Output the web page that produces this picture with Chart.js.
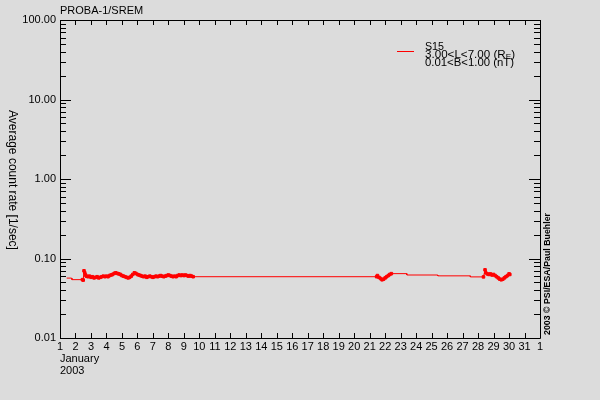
<!DOCTYPE html>
<html>
<head>
<meta charset="utf-8">
<script src="https://cdn.jsdelivr.net/npm/chart.js@4"></script>
<style>
  html, body { margin: 0; padding: 0; background: #dcdcdc; }
  canvas { display: block; }
</style>
</head>
<body>
<canvas id="sremChart" width="600" height="400"></canvas>
<script>
// day of January 2003 (decimal) and S15 average count rate [1/sec]
const days = [
  1.43, 1.75, 1.77, 2.45, 2.5,
  2.55, 2.6, 2.65, 2.7, 2.8, 2.9, 3.0, 3.1, 3.2, 3.3, 3.4, 3.5, 3.6, 3.7, 3.8, 3.9,
  4.0, 4.1, 4.2, 4.3, 4.4, 4.5, 4.6, 4.7, 4.8, 4.9, 5.0, 5.1, 5.2, 5.3, 5.4, 5.5,
  5.6, 5.7, 5.8, 5.9, 6.0, 6.1, 6.2, 6.3, 6.4, 6.5, 6.6, 6.7, 6.8, 6.9, 7.0, 7.1,
  7.2, 7.3, 7.4, 7.5, 7.6, 7.7, 7.8, 7.9, 8.0, 8.1, 8.2, 8.3, 8.4, 8.5, 8.6, 8.7,
  8.8, 8.9, 9.0, 9.1, 9.2, 9.3, 9.4, 9.5, 9.6,
  21.45, 21.5, 21.6, 21.7, 21.8, 21.9, 22.0, 22.1, 22.2, 22.3, 22.4,
  23.4, 23.4, 25.4, 25.4, 27.5, 27.5, 28.35,
  28.45, 28.5, 28.6, 28.7, 28.8, 28.9, 29.0, 29.1, 29.2, 29.3, 29.4, 29.5, 29.6,
  29.7, 29.8, 29.9, 30.0, 30.05
]
const rates = [
  0.0567, 0.0567, 0.0542, 0.0542, 0.0535,
  0.070, 0.066, 0.062, 0.060, 0.059, 0.060, 0.058, 0.059, 0.057, 0.058, 0.059, 0.057, 0.058, 0.059, 0.060, 0.059,
  0.060, 0.059, 0.061, 0.062, 0.063, 0.065, 0.066, 0.065, 0.064, 0.063, 0.061, 0.060, 0.059, 0.058, 0.057, 0.058,
  0.060, 0.063, 0.066, 0.065, 0.063, 0.062, 0.061, 0.060, 0.059, 0.060, 0.058, 0.059, 0.060, 0.059, 0.058, 0.059,
  0.060, 0.059, 0.060, 0.061, 0.060, 0.059, 0.060, 0.061, 0.062, 0.061, 0.060, 0.059, 0.060, 0.059, 0.061, 0.062,
  0.061, 0.062, 0.061, 0.062, 0.061, 0.060, 0.061, 0.060, 0.059,
  0.059, 0.061, 0.058, 0.056, 0.054, 0.055, 0.057, 0.059, 0.061, 0.063, 0.0645,
  0.0645, 0.062, 0.062, 0.0605, 0.0605, 0.0587, 0.0587,
  0.072, 0.066, 0.064, 0.063, 0.064, 0.062, 0.063, 0.061, 0.059, 0.057, 0.055, 0.054, 0.055,
  0.057, 0.059, 0.061, 0.064, 0.063
]

const yTicks = [0.01, 0.1, 1, 10, 100]
const firstDay = 1
const lastDay = 32   // 1 February
const monthLabel = 'January'
const yearLabel = '2003'
const chartTitle = 'PROBA-1/SREM'
const yTitle = 'Average count rate [1/sec]'
const credit = '2003 \u00a9 PSI/ESA/Paul Buehler'
const seriesName = 'S15'

const bgColor = '#dcdcdc'
const lineColor = '#ff0000'
const fontName = '"Liberation Sans", Arial, sans-serif'

// a point is marked only where the measurements are dense
function pointSize(ctx) {
  var i = ctx.dataIndex
  var gaps = []
  if (i > 0) gaps.push(days[i] - days[i - 1])
  if (i < days.length - 1) gaps.push(days[i + 1] - days[i])
  var close = gaps.some(function (g) { return g > 0.03 && g < 0.15 })
  return close ? 1.8 : 0
}

// draw a run of [text, dy, size] pieces stretched to a given width
function drawStretched(c, parts, x, y, width) {
  var total = 0
  parts.forEach(function (p) {
    c.font = p[2] + 'px ' + fontName
    total += c.measureText(p[0]).width
  })
  c.save()
  c.translate(x, y)
  c.scale(width / total, 1)
  var cx = 0
  parts.forEach(function (p) {
    c.font = p[2] + 'px ' + fontName
    c.fillText(p[0], cx, p[1])
    cx += c.measureText(p[0]).width
  })
  c.restore()
}

// background, frame, inward ticks and all free text
const decorPlugin = {
  id: 'decor',
  beforeDraw(chart) {
    var c = chart.ctx
    c.save()
    c.fillStyle = bgColor
    c.fillRect(0, 0, chart.width, chart.height)
    c.restore()
  },
  afterDraw(chart) {
    var c = chart.ctx
    var a = chart.chartArea
    var x = chart.scales.x
    var y = chart.scales.y
    c.save()
    c.strokeStyle = '#000'
    c.lineWidth = 1
    c.beginPath()
    c.rect(Math.round(a.left) + 0.5, Math.round(a.top) + 0.5,
      Math.round(a.right - a.left), Math.round(a.bottom - a.top))
    // day ticks on bottom and top
    for (var d = firstDay; d <= lastDay; d++) {
      var px = Math.round(x.getPixelForValue(d)) + 0.5
      c.moveTo(px, a.bottom)
      c.lineTo(px, a.bottom - 5)
      c.moveTo(px, a.top)
      c.lineTo(px, a.top + 5)
    }
    // log ticks on left and right
    for (var e = -2; e <= 2; e++) {
      for (var m = 1; m <= 9; m++) {
        var v = m * Math.pow(10, e)
        if (v > 100.0001) break
        var py = Math.round(y.getPixelForValue(v)) + 0.5
        var len = m === 1 ? 11 : 6
        c.moveTo(a.left, py)
        c.lineTo(a.left + len, py)
        c.moveTo(a.right, py)
        c.lineTo(a.right - len, py)
      }
    }
    c.stroke()

    c.fillStyle = '#000'
    c.textBaseline = 'middle'
    c.textAlign = 'left'
    c.font = '11px ' + fontName
    c.fillText(chartTitle, 60, 11)
    c.fillText(monthLabel, 60, 359)
    c.fillText(yearLabel, 60, 371)

    // y axis title, reading downward
    c.save()
    c.translate(12, 180)
    c.rotate(Math.PI / 2)
    c.textAlign = 'center'
    c.font = '12px ' + fontName
    c.fillText(yTitle, 0, 0, 146)
    c.restore()

    // credit, reading upward
    c.save()
    c.translate(548, 335)
    c.rotate(-Math.PI / 2)
    c.font = 'bold 9px ' + fontName
    c.fillText(credit, 0, 0, 122)
    c.restore()

    // legend
    c.strokeStyle = lineColor
    c.beginPath()
    c.moveTo(397, 51.5)
    c.lineTo(414, 51.5)
    c.stroke()
    c.fillStyle = '#000'
    drawStretched(c, [[seriesName, 0, 10]], 425, 47.5, 19)
    drawStretched(c, [['3.00<L<7.00 (R', 0, 10], ['E', 2, 7], [')', 0, 10]], 425, 55.5, 90)
    drawStretched(c, [['0.01<B<1.00 (nT)', 0, 10]], 425, 63.5, 89)
    c.restore()
  }
}

var ctx = document.getElementById('sremChart')
var sremChart = new Chart(ctx, {
  type: 'scatter',
  data: {
    datasets: [{
      label: seriesName,
      data: days.map(function (d, i) { return { x: d, y: rates[i] } }),
      showLine: true,
      borderColor: lineColor,
      backgroundColor: lineColor,
      borderWidth: 1,
      pointStyle: 'rect',
      pointRadius: pointSize,
      pointBorderWidth: 1,
      pointHoverRadius: 0,
      lineTension: 0,
    }]
  },
  options: {
    responsive: false,
    animation: false,
    events: [],
    layout: { padding: { top: 20, right: 60, left: 0, bottom: 0 } },
    plugins: {
      legend: { display: false },
      tooltip: { enabled: false },
    },
    scales: {
      x: {
        type: 'linear',
        min: firstDay,
        max: lastDay,
        grid: { display: false, drawTicks: false },
        border: { display: false },
        afterFit: function (s) { s.height = 62 },
        ticks: {
          stepSize: 1,
          autoSkip: false,
          maxRotation: 0,
          padding: 2,
          color: '#000',
          font: { family: fontName, size: 11 },
          callback: function (v) { return v > 31 ? '1' : String(v) }
        }
      },
      y: {
        type: 'logarithmic',
        min: 0.01,
        max: 100,
        grid: { display: false, drawTicks: false },
        border: { display: false },
        afterFit: function (s) { s.width = 60 },
        afterBuildTicks: function (s) {
          s.ticks = yTicks.map(function (v) { return { value: v } })
        },
        ticks: {
          padding: 4,
          color: '#000',
          font: { family: fontName, size: 11 },
          callback: function (v) { return Number(v).toFixed(2) }
        }
      }
    }
  },
  plugins: [decorPlugin]
})
</script>
</body>
</html>
